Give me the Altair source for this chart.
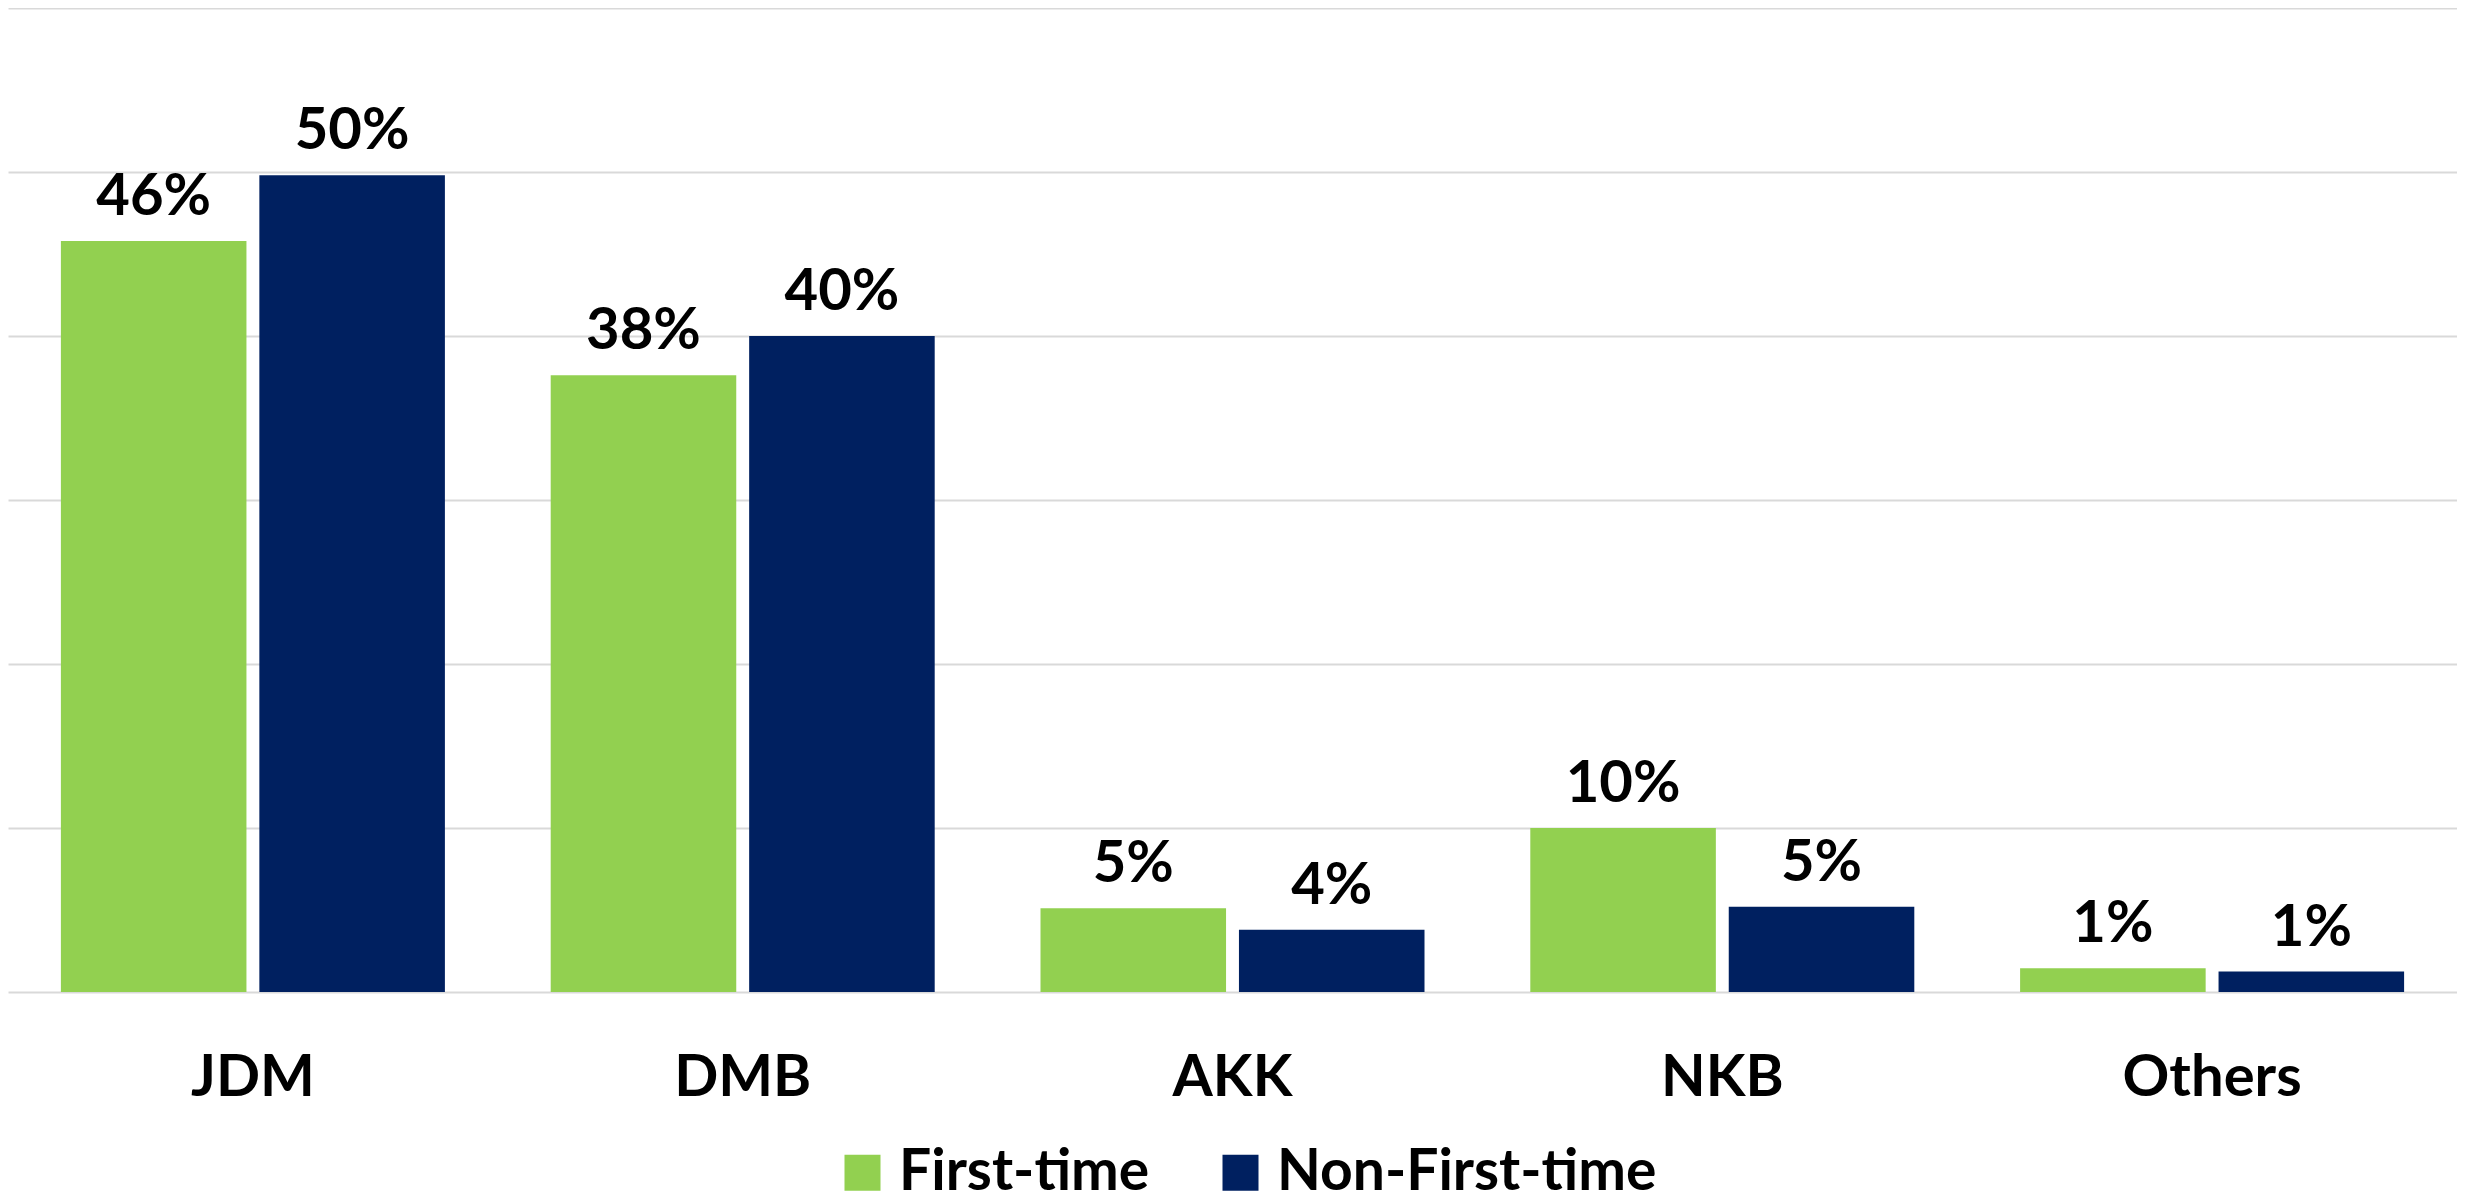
import altair as alt
import pandas as pd

categories = ["JDM", "DMB", "AKK", "NKB", "Others"]
series = ["First-time", "Non-First-time"]
first_time = [0.458, 0.376, 0.051, 0.100, 0.0145]
non_first_time = [0.498, 0.400, 0.038, 0.052, 0.0125]
colors = ["#92D050", "#002060"]
y_ticks = [0.0, 0.1, 0.2, 0.3, 0.4, 0.5, 0.6]

rows = []
for c, a, b in zip(categories, first_time, non_first_time):
    rows.append({"category": c, "series": series[0], "value": a})
    rows.append({"category": c, "series": series[1], "value": b})
df = pd.DataFrame(rows)

FONT = "Lato"
W, H = 2449, 984

x = alt.X(
    "category:N",
    sort=categories,
    scale=alt.Scale(paddingInner=0.216, paddingOuter=0.108),
    axis=alt.Axis(
        title=None, labelAngle=0, domain=False, ticks=False, tickSize=0,
        labelPadding=57, labelFontSize=58, labelFont=FONT,
        labelFontWeight="bold", labelColor="black", labelLimit=0,
    ),
)
xoff = alt.XOffset("series:N", sort=series,
                   scale=alt.Scale(paddingInner=0.065, paddingOuter=0))
y = alt.Y(
    "value:Q",
    scale=alt.Scale(domain=[0, 0.6], nice=False),
    axis=alt.Axis(
        title=None, values=y_ticks, labels=False, ticks=False, domain=False,
        gridColor="#D9D9D9", gridWidth=2,
    ),
)
color = alt.Color(
    "series:N",
    sort=series,
    scale=alt.Scale(domain=series, range=colors),
    legend=alt.Legend(
        title=None, orient="none", direction="horizontal",
        legendX=826, legendY=1136,
        symbolType="square", symbolSize=1296, symbolStrokeWidth=0,
        symbolOpacity=1, labelLimit=0,
        labelFontSize=57, labelFont=FONT, labelFontWeight="bold",
        labelColor="black", labelOffset=8, columnPadding=62, padding=0,
    ),
)

bars = alt.Chart(df).mark_bar().encode(x=x, xOffset=xoff, y=y, color=color)
labels = alt.Chart(df).mark_text(
    dy=-26, baseline="alphabetic", fontSize=58, font=FONT,
    fontWeight="bold", color="black",
).encode(x=x, xOffset=xoff, y=y, text=alt.Text("value:Q", format=".0%"))

chart = (
    alt.layer(bars, labels)
    .properties(
        width=W, height=H, autosize="none",
        padding={"left": 0, "top": 0, "right": 0, "bottom": 204},
    )
    .configure_view(stroke=None)
)

chart.save("out.html", embed_options={"renderer": "svg", "actions": False})
